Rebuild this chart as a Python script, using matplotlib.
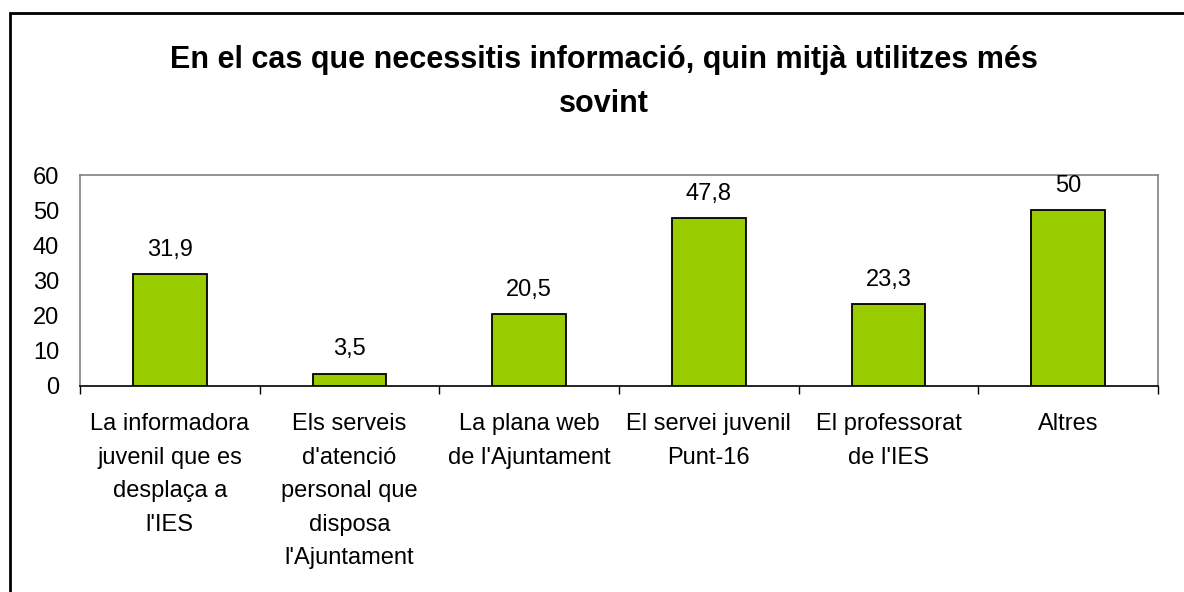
import numpy as np
import matplotlib.pyplot as plt
from matplotlib.patches import Rectangle

# =========================
# Data
# =========================
categories = [
    "La informadora\njuvenil que es\ndesplaça a\nl'IES",
    "Els serveis\nd'atenció\npersonal que\ndisposa\nl'Ajuntament",
    "La plana web\nde l'Ajuntament",
    "El servei juvenil\nPunt-16",
    "El professorat\nde l'IES",
    "Altres",
]
values = [31.9, 3.5, 20.5, 47.8, 23.3, 50]
value_labels = ["31,9", "3,5", "20,5", "47,8", "23,3", "50"]

title = "En el cas que necessitis informació, quin mitjà utilitzes més\nsovint"

plt.rcParams["font.family"] = ["Liberation Sans", "DejaVu Sans"]
font_size = 17

fig = plt.figure(figsize=(11.84, 5.92), dpi=100)
ax = fig.add_axes([80 / 1184, 1 - 386 / 592, (1158 - 80) / 1184, (386 - 175) / 592])

x = np.arange(len(categories))
bars = ax.bar(x, values, width=0.41, color="#99CC00", edgecolor="black", linewidth=1.3, zorder=3)

for bar, lab in zip(bars, value_labels):
    ax.annotate(
        lab,
        (bar.get_x() + bar.get_width() / 2, bar.get_height()),
        xytext=(0, 17.5),
        textcoords="offset points",
        ha="center",
        va="center",
        fontsize=font_size,
    )

ax.set_xlim(-0.5, len(categories) - 0.5)
ax.set_ylim(0, 60)
ax.set_yticks(np.arange(0, 61, 10))
ax.tick_params(axis="y", length=0, pad=15, labelsize=font_size)

ax.set_xticks(x)
ax.set_xticklabels(categories, fontsize=font_size, linespacing=1.68, va="top")
ax.tick_params(axis="x", which="major", length=0, pad=19.5)
ax.set_xticks(np.arange(-0.5, len(categories), 1), minor=True)
ax.tick_params(axis="x", which="minor", length=6, width=1, direction="out")

for side in ["top", "right", "left"]:
    ax.spines[side].set_color("#808080")
    ax.spines[side].set_linewidth(1.2)
ax.spines["bottom"].set_color("black")
ax.spines["bottom"].set_linewidth(1.2)

fig.text(0.51, 1 - 82 / 592, title, ha="center", va="center", fontsize=22,
         fontweight="bold", linespacing=1.63)

# outer chart border (only left and top visible)
fig.patches.append(Rectangle((10 / 1184, -0.1), 1.2, 1 - 13 / 592 + 0.1,
                             transform=fig.transFigure, fill=False,
                             edgecolor="black", linewidth=2))

plt.savefig("out.png", dpi=100)
